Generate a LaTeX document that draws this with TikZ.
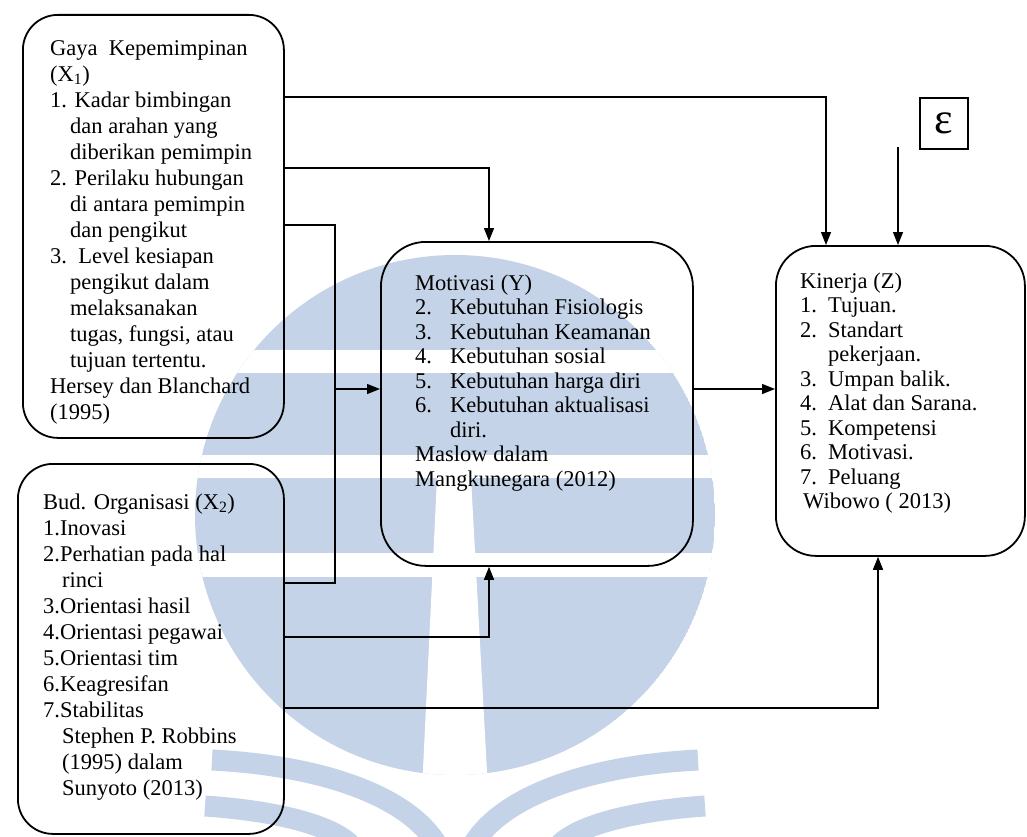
\documentclass[tikz,border=0pt]{standalone}
\usepackage{fontspec}
\setmainfont{Liberation Serif}
\usetikzlibrary{arrows.meta}
\definecolor{wmblue}{RGB}{196,211,231}
\tikzset{
  box/.style={draw, line width=1.8pt, rounded corners=#1, inner sep=0pt, anchor=north west},
  box/.default=35pt,
  conn/.style={draw, line width=1.4pt},
  arr/.style={conn, -{Triangle[length=13pt,width=10pt]}},
  txt/.style={anchor=north west, align=left, inner sep=0pt,
              font=\fontsize{22.5}{#1}\selectfont},
  txt/.default=24.5,
}
\newcommand{\fst}{\rule{0pt}{17pt}}
\newcommand{\ind}[1]{\hspace*{#1}}
\begin{document}
\begin{tikzpicture}[x=1pt,y=-1pt]
\useasboundingbox (0,0) rectangle (1027,837);

% watermark emblem in the background
\begin{scope}
  \clip (0,0) rectangle (1027,837);
  \begin{scope}
    \clip (455,515) circle [radius=260pt];
    \fill[wmblue] (455,515) circle [radius=260pt];
    \fill[white] (150,350) rectangle (800,373);
    \fill[white] (150,455) rectangle (800,478);
    \fill[white] (150,553) rectangle (800,577);
    \fill[white] (437,478) -- (471,478) -- (488,790) -- (422,790) -- cycle;
  \end{scope}
  \draw[wmblue, line width=21pt] (212,760) .. controls (330,766) and (415,800) .. (440,850);
  \draw[wmblue, line width=21pt] (205,806) .. controls (280,811) and (340,827) .. (355,850);
  \draw[wmblue, line width=21pt] (698,760) .. controls (580,766) and (495,800) .. (470,850);
  \draw[wmblue, line width=21pt] (705,806) .. controls (630,811) and (570,827) .. (555,850);
\end{scope}

% boxes
\node[box, minimum width=261pt, minimum height=423pt] (x1) at (22,14) {};
\node[box, minimum width=266pt, minimum height=370pt] (x2) at (17,463) {};
\node[box=45pt, minimum width=312pt, minimum height=324pt] (mot) at (380,241) {};
\node[box=40pt, minimum width=249pt, minimum height=310pt] (kin) at (775,245) {};
\node[draw, line width=1.6pt, minimum width=48pt, minimum height=51pt, inner sep=0pt,
      anchor=north west, font=\fontsize{44}{44}\selectfont] (eps) at (919,97) {ε};

% box texts
\node[txt=26] (x1t) at (50,38) {\fst Gaya\ \ Kepemimpinan\\
(X\textsubscript{1})\\
1. Kadar bimbingan\\
\ind{20pt}dan arahan yang\\
\ind{20pt}diberikan pemimpin\\
2. Perilaku hubungan\\
\ind{20pt}di antara pemimpin\\
\ind{20pt}dan pengikut\\
3.\ \ Level kesiapan\\
\ind{20pt}pengikut dalam\\
\ind{20pt}melaksanakan\\
\ind{20pt}tugas, fungsi, atau\\
\ind{20pt}tujuan tertentu.\\
Hersey dan Blanchard\\
(1995)};

\node[txt=26] (x2t) at (43,492) {\fst Bud. Organisasi (X\textsubscript{2})\\
1.Inovasi\\
2.Perhatian pada hal\\
\ind{19pt}rinci\\
3.Orientasi hasil\\
4.Orientasi pegawai\\
5.Orientasi tim\\
6.Keagresifan\\
7.Stabilitas\\
\ind{19pt}Stephen P. Robbins\\
\ind{19pt}(1995) dalam\\
\ind{19pt}Sunyoto (2013)};

\node[txt] (mott) at (415,273) {\fst Motivasi (Y)\\
\makebox[35pt][l]{2.}Kebutuhan Fisiologis\\
\makebox[35pt][l]{3.}Kebutuhan Keamanan\\
\makebox[35pt][l]{4.}Kebutuhan sosial\\
\makebox[35pt][l]{5.}Kebutuhan harga diri\\
\makebox[35pt][l]{6.}Kebutuhan aktualisasi\\
\ind{35pt}diri.\\
Maslow dalam\\
Mangkunegara (2012)};

\node[txt] (kint) at (800,271) {\fst Kinerja (Z)\\
\makebox[28pt][l]{1.}Tujuan.\\
\makebox[28pt][l]{2.}Standart\\
\ind{28pt}pekerjaan.\\
\makebox[28pt][l]{3.}Umpan balik.\\
\makebox[28pt][l]{4.}Alat dan Sarana.\\
\makebox[28pt][l]{5.}Kompetensi\\
\makebox[28pt][l]{6.}Motivasi.\\
\makebox[28pt][l]{7.}Peluang\\
\ind{3pt}Wibowo ( 2013)};

% connectors
\coordinate (br) at (335,389);
\coordinate (epsfoot) at (898,147);
\draw[arr] (x1.east |- 0,97) -| (826,0 |- kin.north);
\draw[arr] (x1.east |- 0,168) -| (489,0 |- mot.north);
\draw[conn] (x1.east |- 0,225) -| (br) |- (x2.east |- 0,583);
\draw[arr] (br) -- (br -| mot.west);
\draw[arr] (x2.east |- 0,637) -| (489,0 |- mot.south);
\draw[arr] (x2.east |- 0,708) -| (878,0 |- kin.south);
\draw[arr] (mot.east |- 0,389) -- (kin.west |- 0,389);
\draw[arr] (epsfoot) -- (epsfoot |- kin.north);
\end{tikzpicture}
\end{document}
